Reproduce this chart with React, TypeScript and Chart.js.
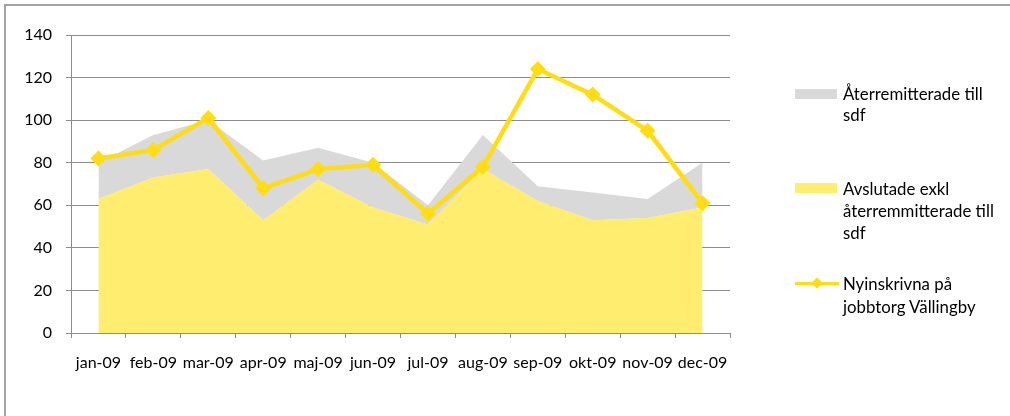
import React, { useEffect, useRef } from "react";
import { Chart, registerables } from "chart.js";

Chart.register(...registerables);

const categories = ["jan-09", "feb-09", "mar-09", "apr-09", "maj-09", "jun-09", "jul-09", "aug-09", "sep-09", "okt-09", "nov-09", "dec-09"];
const avslutade = [63, 73, 77, 53, 72, 59, 51, 77, 62, 53, 54, 59];
const aterremitterade = [17, 20, 23, 28, 15, 21, 9, 16, 7, 13, 9, 21];
const nyinskrivna = [82, 86, 101, 68, 77, 79, 56, 78, 124, 112, 95, 61];
const legendLabels = ["Återremitterade till sdf", "Avslutade exkl återremmitterade till sdf", "Nyinskrivna på jobbtorg Vällingby"];

const FONT = "Lato, 'Open Sans', sans-serif";
const GRAY = "#d9d9d9";
const YELLOW_AREA = "#ffed6f";
const LINE = "#ffdc14";
const AXIS = "#8c8c8c";

export default function App() {
  const ref = useRef<HTMLCanvasElement>(null);
  useEffect(() => {
    if (!ref.current) return;
    const chart = new Chart(ref.current, {
      type: "line",
      data: {
        labels: categories,
        datasets: [
          {
            label: legendLabels[2],
            data: nyinskrivna,
            borderColor: LINE,
            backgroundColor: LINE,
            borderWidth: 4.5,
            pointStyle: "rectRot",
            pointRadius: 8,
            pointBorderWidth: 0,
            pointBackgroundColor: LINE,
            fill: false,
            tension: 0,
            stack: "line",
          },
          {
            label: legendLabels[1],
            data: avslutade,
            borderWidth: 0,
            borderColor: YELLOW_AREA,
            backgroundColor: YELLOW_AREA,
            pointRadius: 0,
            fill: "origin",
            tension: 0,
            stack: "area",
          },
          {
            label: legendLabels[0],
            data: aterremitterade,
            borderWidth: 0,
            borderColor: GRAY,
            backgroundColor: GRAY,
            pointRadius: 0,
            fill: "-1",
            tension: 0,
            stack: "area",
          },
        ],
      },
      options: {
        responsive: false,
        animation: false,
        layout: { padding: { top: 35, right: 280, left: 0, bottom: 0 } },
        plugins: { legend: { display: false }, tooltip: { enabled: false } },
        scales: {
          x: {
            offset: true,
            grid: { offset: true, drawOnChartArea: false, drawTicks: true, tickLength: 5, color: AXIS, lineWidth: 1 },
            border: { color: AXIS, width: 1 },
            ticks: { color: "#000", font: { family: FONT, size: 16 }, padding: 15, maxRotation: 0, autoSkip: false },
            afterFit: (s: any) => { s.height = 83; },
          },
          y: {
            stacked: true,
            min: 0,
            max: 140,
            grid: { color: AXIS, lineWidth: 1, tickLength: 5, drawTicks: true },
            border: { color: AXIS, width: 1 },
            ticks: { stepSize: 20, color: "#000", font: { family: FONT, size: 16 }, padding: 14 },
            afterFit: (s: any) => { s.width = 71; },
          },
        },
      },
    });
    return () => chart.destroy();
  }, []);

  const txt: React.CSSProperties = { position: "absolute", fontFamily: FONT, fontSize: 16.8, color: "#000", lineHeight: "20px", whiteSpace: "nowrap" };
  const line = (text: string, x: number, cy: number) => (
    <div style={{ ...txt, left: x, top: cy - 10 }}>{text}</div>
  );

  return (
    <div style={{ position: "fixed", left: 0, top: 0, width: 1010, height: 416, background: "#fff", overflow: "hidden" }}>
      <div style={{ position: "absolute", left: 4, top: 4, width: 1030, height: 440, border: "2px solid #a3a3a3", boxSizing: "border-box" }} />
      <canvas ref={ref} width={1010} height={416} style={{ position: "absolute", left: 0, top: 0 }} />
      <div style={{ position: "absolute", left: 795, top: 89, width: 42, height: 10, background: GRAY }} />
      {line("Återremitterade till", 843, 94)}
      {line("sdf", 843, 115)}
      <div style={{ position: "absolute", left: 795, top: 183, width: 42, height: 10, background: YELLOW_AREA }} />
      {line("Avslutade exkl", 843, 189)}
      {line("återremmitterade till", 843, 211)}
      {line("sdf", 843, 233)}
      <div style={{ position: "absolute", left: 795, top: 282, width: 44, height: 3, background: LINE }} />
      <div style={{ position: "absolute", left: 813, top: 279, width: 8, height: 8, background: LINE, transform: "rotate(45deg)" }} />
      {line("Nyinskrivna på", 843, 284)}
      {line("jobbtorg Vällingby", 843, 307)}
    </div>
  );
}
